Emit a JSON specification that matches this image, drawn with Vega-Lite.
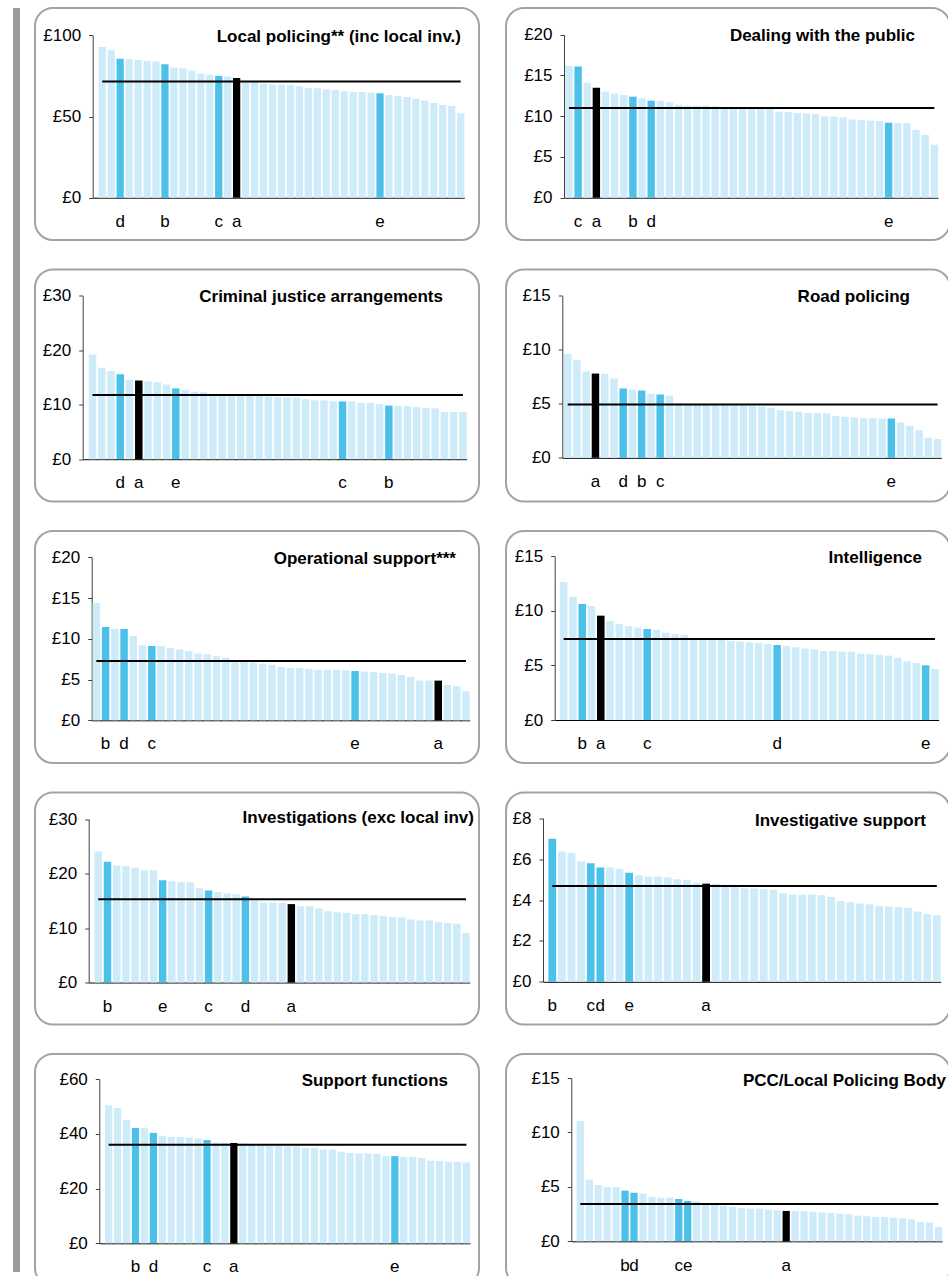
{
"$schema": "https://vega.github.io/schema/vega-lite/v6.json",
"padding": {"left": 13, "top": 7, "right": 0, "bottom": 0},
"background": "white",
"config": {
  "view": {"stroke": "#a3a3a3", "strokeWidth": 2, "cornerRadius": 18, "fill": "white"},
  "axis": {"labelFont": "Liberation Sans", "labelFontSize": 17, "labelColor": "#000", "grid": false, "domainColor": "#404040", "tickColor": "#404040", "tickSize": 4, "labelPadding": 8},
  "title": {"anchor": "end", "frame": "group", "font": "Liberation Sans", "fontSize": 17, "fontWeight": "bold", "color": "#000", "baseline": "alphabetic"},
  "text": {"font": "Liberation Sans", "fontSize": 17, "color": "#000"},
  "rule": {"color": "#000", "strokeWidth": 2},
  "concat": {"spacing": 25}
},
"datasets": {
"means": [
 {"chart":"LP","mean":71.5},{"chart":"DP","mean":11.0},{"chart":"CJ","mean":11.8},{"chart":"RP","mean":4.94},{"chart":"OS","mean":7.28},
 {"chart":"IN","mean":7.42},{"chart":"IV","mean":15.3},{"chart":"IS","mean":4.69},{"chart":"SF","mean":36.1},{"chart":"PCC","mean":3.43}
],
"bars": [
{"chart":"LP","rank":1,"value":92.8,"force":""},{"chart":"LP","rank":2,"value":90.8,"force":""},{"chart":"LP","rank":3,"value":85.6,"force":"d"},{"chart":"LP","rank":4,"value":85.2,"force":""},{"chart":"LP","rank":5,"value":84.8,"force":""},{"chart":"LP","rank":6,"value":84.2,"force":""},{"chart":"LP","rank":7,"value":83.8,"force":""},{"chart":"LP","rank":8,"value":82.1,"force":"b"},{"chart":"LP","rank":9,"value":80.1,"force":""},{"chart":"LP","rank":10,"value":79.7,"force":""},{"chart":"LP","rank":11,"value":78.2,"force":""},{"chart":"LP","rank":12,"value":76.4,"force":""},{"chart":"LP","rank":13,"value":75.8,"force":""},{"chart":"LP","rank":14,"value":75.0,"force":"c"},{"chart":"LP","rank":15,"value":74.7,"force":""},{"chart":"LP","rank":16,"value":73.7,"force":"a"},{"chart":"LP","rank":17,"value":71.9,"force":""},{"chart":"LP","rank":18,"value":71.5,"force":""},{"chart":"LP","rank":19,"value":70.2,"force":""},{"chart":"LP","rank":20,"value":69.8,"force":""},{"chart":"LP","rank":21,"value":69.6,"force":""},{"chart":"LP","rank":22,"value":69.4,"force":""},{"chart":"LP","rank":23,"value":68.4,"force":""},{"chart":"LP","rank":24,"value":67.6,"force":""},{"chart":"LP","rank":25,"value":67.4,"force":""},{"chart":"LP","rank":26,"value":66.7,"force":""},{"chart":"LP","rank":27,"value":66.3,"force":""},{"chart":"LP","rank":28,"value":65.5,"force":""},{"chart":"LP","rank":29,"value":65.1,"force":""},{"chart":"LP","rank":30,"value":65.1,"force":""},{"chart":"LP","rank":31,"value":64.7,"force":""},{"chart":"LP","rank":32,"value":64.3,"force":"e"},{"chart":"LP","rank":33,"value":63.2,"force":""},{"chart":"LP","rank":34,"value":62.6,"force":""},{"chart":"LP","rank":35,"value":62.0,"force":""},{"chart":"LP","rank":36,"value":61.0,"force":""},{"chart":"LP","rank":37,"value":59.8,"force":""},{"chart":"LP","rank":38,"value":58.3,"force":""},{"chart":"LP","rank":39,"value":57.1,"force":""},{"chart":"LP","rank":40,"value":56.5,"force":""},{"chart":"LP","rank":41,"value":52.0,"force":""},
{"chart":"DP","rank":1,"value":16.2,"force":""},{"chart":"DP","rank":2,"value":16.1,"force":"c"},{"chart":"DP","rank":3,"value":14.1,"force":""},{"chart":"DP","rank":4,"value":13.5,"force":"a"},{"chart":"DP","rank":5,"value":13.0,"force":""},{"chart":"DP","rank":6,"value":12.8,"force":""},{"chart":"DP","rank":7,"value":12.6,"force":""},{"chart":"DP","rank":8,"value":12.4,"force":"b"},{"chart":"DP","rank":9,"value":12.2,"force":""},{"chart":"DP","rank":10,"value":11.9,"force":"d"},{"chart":"DP","rank":11,"value":11.9,"force":""},{"chart":"DP","rank":12,"value":11.7,"force":""},{"chart":"DP","rank":13,"value":11.4,"force":""},{"chart":"DP","rank":14,"value":11.3,"force":""},{"chart":"DP","rank":15,"value":11.3,"force":""},{"chart":"DP","rank":16,"value":11.3,"force":""},{"chart":"DP","rank":17,"value":11.2,"force":""},{"chart":"DP","rank":18,"value":11.1,"force":""},{"chart":"DP","rank":19,"value":11.1,"force":""},{"chart":"DP","rank":20,"value":11.0,"force":""},{"chart":"DP","rank":21,"value":11.0,"force":""},{"chart":"DP","rank":22,"value":11.0,"force":""},{"chart":"DP","rank":23,"value":11.0,"force":""},{"chart":"DP","rank":24,"value":10.55,"force":""},{"chart":"DP","rank":25,"value":10.5,"force":""},{"chart":"DP","rank":26,"value":10.4,"force":""},{"chart":"DP","rank":27,"value":10.35,"force":""},{"chart":"DP","rank":28,"value":10.25,"force":""},{"chart":"DP","rank":29,"value":10.0,"force":""},{"chart":"DP","rank":30,"value":9.95,"force":""},{"chart":"DP","rank":31,"value":9.85,"force":""},{"chart":"DP","rank":32,"value":9.6,"force":""},{"chart":"DP","rank":33,"value":9.55,"force":""},{"chart":"DP","rank":34,"value":9.45,"force":""},{"chart":"DP","rank":35,"value":9.4,"force":""},{"chart":"DP","rank":36,"value":9.2,"force":"e"},{"chart":"DP","rank":37,"value":9.15,"force":""},{"chart":"DP","rank":38,"value":9.15,"force":""},{"chart":"DP","rank":39,"value":8.3,"force":""},{"chart":"DP","rank":40,"value":7.7,"force":""},{"chart":"DP","rank":41,"value":6.5,"force":""},
{"chart":"CJ","rank":1,"value":19.2,"force":""},{"chart":"CJ","rank":2,"value":16.8,"force":""},{"chart":"CJ","rank":3,"value":16.2,"force":""},{"chart":"CJ","rank":4,"value":15.6,"force":"d"},{"chart":"CJ","rank":5,"value":14.6,"force":""},{"chart":"CJ","rank":6,"value":14.45,"force":"a"},{"chart":"CJ","rank":7,"value":14.3,"force":""},{"chart":"CJ","rank":8,"value":14.1,"force":""},{"chart":"CJ","rank":9,"value":13.7,"force":""},{"chart":"CJ","rank":10,"value":13.0,"force":"e"},{"chart":"CJ","rank":11,"value":12.7,"force":""},{"chart":"CJ","rank":12,"value":12.4,"force":""},{"chart":"CJ","rank":13,"value":12.3,"force":""},{"chart":"CJ","rank":14,"value":11.9,"force":""},{"chart":"CJ","rank":15,"value":11.8,"force":""},{"chart":"CJ","rank":16,"value":11.7,"force":""},{"chart":"CJ","rank":17,"value":11.7,"force":""},{"chart":"CJ","rank":18,"value":11.6,"force":""},{"chart":"CJ","rank":19,"value":11.6,"force":""},{"chart":"CJ","rank":20,"value":11.5,"force":""},{"chart":"CJ","rank":21,"value":11.4,"force":""},{"chart":"CJ","rank":22,"value":11.35,"force":""},{"chart":"CJ","rank":23,"value":11.3,"force":""},{"chart":"CJ","rank":24,"value":11.0,"force":""},{"chart":"CJ","rank":25,"value":10.8,"force":""},{"chart":"CJ","rank":26,"value":10.8,"force":""},{"chart":"CJ","rank":27,"value":10.65,"force":""},{"chart":"CJ","rank":28,"value":10.6,"force":"c"},{"chart":"CJ","rank":29,"value":10.6,"force":""},{"chart":"CJ","rank":30,"value":10.35,"force":""},{"chart":"CJ","rank":31,"value":10.35,"force":""},{"chart":"CJ","rank":32,"value":10.1,"force":""},{"chart":"CJ","rank":33,"value":9.85,"force":"b"},{"chart":"CJ","rank":34,"value":9.75,"force":""},{"chart":"CJ","rank":35,"value":9.75,"force":""},{"chart":"CJ","rank":36,"value":9.6,"force":""},{"chart":"CJ","rank":37,"value":9.4,"force":""},{"chart":"CJ","rank":38,"value":9.35,"force":""},{"chart":"CJ","rank":39,"value":8.7,"force":""},{"chart":"CJ","rank":40,"value":8.7,"force":""},{"chart":"CJ","rank":41,"value":8.7,"force":""},
{"chart":"RP","rank":1,"value":9.6,"force":""},{"chart":"RP","rank":2,"value":9.07,"force":""},{"chart":"RP","rank":3,"value":8.0,"force":""},{"chart":"RP","rank":4,"value":7.8,"force":"a"},{"chart":"RP","rank":5,"value":7.78,"force":""},{"chart":"RP","rank":6,"value":7.35,"force":""},{"chart":"RP","rank":7,"value":6.42,"force":"d"},{"chart":"RP","rank":8,"value":6.3,"force":""},{"chart":"RP","rank":9,"value":6.23,"force":"b"},{"chart":"RP","rank":10,"value":5.93,"force":""},{"chart":"RP","rank":11,"value":5.86,"force":"c"},{"chart":"RP","rank":12,"value":5.74,"force":""},{"chart":"RP","rank":13,"value":5.05,"force":""},{"chart":"RP","rank":14,"value":4.95,"force":""},{"chart":"RP","rank":15,"value":4.9,"force":""},{"chart":"RP","rank":16,"value":4.9,"force":""},{"chart":"RP","rank":17,"value":4.88,"force":""},{"chart":"RP","rank":18,"value":4.85,"force":""},{"chart":"RP","rank":19,"value":4.82,"force":""},{"chart":"RP","rank":20,"value":4.8,"force":""},{"chart":"RP","rank":21,"value":4.78,"force":""},{"chart":"RP","rank":22,"value":4.75,"force":""},{"chart":"RP","rank":23,"value":4.63,"force":""},{"chart":"RP","rank":24,"value":4.4,"force":""},{"chart":"RP","rank":25,"value":4.32,"force":""},{"chart":"RP","rank":26,"value":4.26,"force":""},{"chart":"RP","rank":27,"value":4.14,"force":""},{"chart":"RP","rank":28,"value":4.14,"force":""},{"chart":"RP","rank":29,"value":4.1,"force":""},{"chart":"RP","rank":30,"value":3.86,"force":""},{"chart":"RP","rank":31,"value":3.8,"force":""},{"chart":"RP","rank":32,"value":3.74,"force":""},{"chart":"RP","rank":33,"value":3.67,"force":""},{"chart":"RP","rank":34,"value":3.67,"force":""},{"chart":"RP","rank":35,"value":3.64,"force":""},{"chart":"RP","rank":36,"value":3.64,"force":"e"},{"chart":"RP","rank":37,"value":3.27,"force":""},{"chart":"RP","rank":38,"value":2.96,"force":""},{"chart":"RP","rank":39,"value":2.56,"force":""},{"chart":"RP","rank":40,"value":1.85,"force":""},{"chart":"RP","rank":41,"value":1.73,"force":""},
{"chart":"OS","rank":1,"value":14.4,"force":""},{"chart":"OS","rank":2,"value":11.45,"force":"b"},{"chart":"OS","rank":3,"value":11.2,"force":""},{"chart":"OS","rank":4,"value":11.2,"force":"d"},{"chart":"OS","rank":5,"value":10.35,"force":""},{"chart":"OS","rank":6,"value":9.2,"force":""},{"chart":"OS","rank":7,"value":9.12,"force":"c"},{"chart":"OS","rank":8,"value":9.12,"force":""},{"chart":"OS","rank":9,"value":8.87,"force":""},{"chart":"OS","rank":10,"value":8.7,"force":""},{"chart":"OS","rank":11,"value":8.5,"force":""},{"chart":"OS","rank":12,"value":8.18,"force":""},{"chart":"OS","rank":13,"value":8.1,"force":""},{"chart":"OS","rank":14,"value":7.85,"force":""},{"chart":"OS","rank":15,"value":7.7,"force":""},{"chart":"OS","rank":16,"value":7.36,"force":""},{"chart":"OS","rank":17,"value":7.2,"force":""},{"chart":"OS","rank":18,"value":7.1,"force":""},{"chart":"OS","rank":19,"value":6.95,"force":""},{"chart":"OS","rank":20,"value":6.8,"force":""},{"chart":"OS","rank":21,"value":6.54,"force":""},{"chart":"OS","rank":22,"value":6.42,"force":""},{"chart":"OS","rank":23,"value":6.42,"force":""},{"chart":"OS","rank":24,"value":6.3,"force":""},{"chart":"OS","rank":25,"value":6.2,"force":""},{"chart":"OS","rank":26,"value":6.2,"force":""},{"chart":"OS","rank":27,"value":6.2,"force":""},{"chart":"OS","rank":28,"value":6.13,"force":""},{"chart":"OS","rank":29,"value":6.05,"force":"e"},{"chart":"OS","rank":30,"value":5.97,"force":""},{"chart":"OS","rank":31,"value":5.9,"force":""},{"chart":"OS","rank":32,"value":5.8,"force":""},{"chart":"OS","rank":33,"value":5.72,"force":""},{"chart":"OS","rank":34,"value":5.56,"force":""},{"chart":"OS","rank":35,"value":5.32,"force":""},{"chart":"OS","rank":36,"value":4.87,"force":""},{"chart":"OS","rank":37,"value":4.87,"force":""},{"chart":"OS","rank":38,"value":4.87,"force":"a"},{"chart":"OS","rank":39,"value":4.34,"force":""},{"chart":"OS","rank":40,"value":4.2,"force":""},{"chart":"OS","rank":41,"value":3.56,"force":""},
{"chart":"IN","rank":1,"value":12.65,"force":""},{"chart":"IN","rank":2,"value":11.3,"force":""},{"chart":"IN","rank":3,"value":10.63,"force":"b"},{"chart":"IN","rank":4,"value":10.45,"force":""},{"chart":"IN","rank":5,"value":9.56,"force":"a"},{"chart":"IN","rank":6,"value":9.07,"force":""},{"chart":"IN","rank":7,"value":8.8,"force":""},{"chart":"IN","rank":8,"value":8.6,"force":""},{"chart":"IN","rank":9,"value":8.46,"force":""},{"chart":"IN","rank":10,"value":8.34,"force":"c"},{"chart":"IN","rank":11,"value":8.28,"force":""},{"chart":"IN","rank":12,"value":8.0,"force":""},{"chart":"IN","rank":13,"value":7.85,"force":""},{"chart":"IN","rank":14,"value":7.8,"force":""},{"chart":"IN","rank":15,"value":7.5,"force":""},{"chart":"IN","rank":16,"value":7.4,"force":""},{"chart":"IN","rank":17,"value":7.33,"force":""},{"chart":"IN","rank":18,"value":7.33,"force":""},{"chart":"IN","rank":19,"value":7.24,"force":""},{"chart":"IN","rank":20,"value":7.18,"force":""},{"chart":"IN","rank":21,"value":7.12,"force":""},{"chart":"IN","rank":22,"value":7.06,"force":""},{"chart":"IN","rank":23,"value":6.97,"force":""},{"chart":"IN","rank":24,"value":6.87,"force":"d"},{"chart":"IN","rank":25,"value":6.78,"force":""},{"chart":"IN","rank":26,"value":6.66,"force":""},{"chart":"IN","rank":27,"value":6.54,"force":""},{"chart":"IN","rank":28,"value":6.48,"force":""},{"chart":"IN","rank":29,"value":6.32,"force":""},{"chart":"IN","rank":30,"value":6.32,"force":""},{"chart":"IN","rank":31,"value":6.26,"force":""},{"chart":"IN","rank":32,"value":6.26,"force":""},{"chart":"IN","rank":33,"value":6.08,"force":""},{"chart":"IN","rank":34,"value":6.02,"force":""},{"chart":"IN","rank":35,"value":5.96,"force":""},{"chart":"IN","rank":36,"value":5.9,"force":""},{"chart":"IN","rank":37,"value":5.71,"force":""},{"chart":"IN","rank":38,"value":5.38,"force":""},{"chart":"IN","rank":39,"value":5.22,"force":""},{"chart":"IN","rank":40,"value":5.01,"force":"e"},{"chart":"IN","rank":41,"value":4.67,"force":""},
{"chart":"IV","rank":1,"value":24.07,"force":""},{"chart":"IV","rank":2,"value":22.2,"force":"b"},{"chart":"IV","rank":3,"value":21.5,"force":""},{"chart":"IV","rank":4,"value":21.4,"force":""},{"chart":"IV","rank":5,"value":21.1,"force":""},{"chart":"IV","rank":6,"value":20.6,"force":""},{"chart":"IV","rank":7,"value":20.6,"force":""},{"chart":"IV","rank":8,"value":18.8,"force":"e"},{"chart":"IV","rank":9,"value":18.6,"force":""},{"chart":"IV","rank":10,"value":18.4,"force":""},{"chart":"IV","rank":11,"value":18.4,"force":""},{"chart":"IV","rank":12,"value":17.3,"force":""},{"chart":"IV","rank":13,"value":16.9,"force":"c"},{"chart":"IV","rank":14,"value":16.6,"force":""},{"chart":"IV","rank":15,"value":16.35,"force":""},{"chart":"IV","rank":16,"value":16.2,"force":""},{"chart":"IV","rank":17,"value":15.8,"force":"d"},{"chart":"IV","rank":18,"value":15.1,"force":""},{"chart":"IV","rank":19,"value":14.7,"force":""},{"chart":"IV","rank":20,"value":14.7,"force":""},{"chart":"IV","rank":21,"value":14.65,"force":""},{"chart":"IV","rank":22,"value":14.4,"force":"a"},{"chart":"IV","rank":23,"value":14.0,"force":""},{"chart":"IV","rank":24,"value":14.0,"force":""},{"chart":"IV","rank":25,"value":13.6,"force":""},{"chart":"IV","rank":26,"value":13.1,"force":""},{"chart":"IV","rank":27,"value":12.9,"force":""},{"chart":"IV","rank":28,"value":12.8,"force":""},{"chart":"IV","rank":29,"value":12.55,"force":""},{"chart":"IV","rank":30,"value":12.55,"force":""},{"chart":"IV","rank":31,"value":12.4,"force":""},{"chart":"IV","rank":32,"value":12.2,"force":""},{"chart":"IV","rank":33,"value":12.05,"force":""},{"chart":"IV","rank":34,"value":11.95,"force":""},{"chart":"IV","rank":35,"value":11.6,"force":""},{"chart":"IV","rank":36,"value":11.4,"force":""},{"chart":"IV","rank":37,"value":11.4,"force":""},{"chart":"IV","rank":38,"value":11.1,"force":""},{"chart":"IV","rank":39,"value":10.95,"force":""},{"chart":"IV","rank":40,"value":10.8,"force":""},{"chart":"IV","rank":41,"value":9.1,"force":""},
{"chart":"IS","rank":1,"value":7.0,"force":"b"},{"chart":"IS","rank":2,"value":6.37,"force":""},{"chart":"IS","rank":3,"value":6.3,"force":""},{"chart":"IS","rank":4,"value":5.88,"force":""},{"chart":"IS","rank":5,"value":5.8,"force":"c"},{"chart":"IS","rank":6,"value":5.59,"force":"d"},{"chart":"IS","rank":7,"value":5.59,"force":""},{"chart":"IS","rank":8,"value":5.52,"force":""},{"chart":"IS","rank":9,"value":5.33,"force":"e"},{"chart":"IS","rank":10,"value":5.21,"force":""},{"chart":"IS","rank":11,"value":5.15,"force":""},{"chart":"IS","rank":12,"value":5.15,"force":""},{"chart":"IS","rank":13,"value":5.1,"force":""},{"chart":"IS","rank":14,"value":5.02,"force":""},{"chart":"IS","rank":15,"value":4.98,"force":""},{"chart":"IS","rank":16,"value":4.84,"force":""},{"chart":"IS","rank":17,"value":4.8,"force":"a"},{"chart":"IS","rank":18,"value":4.79,"force":""},{"chart":"IS","rank":19,"value":4.72,"force":""},{"chart":"IS","rank":20,"value":4.66,"force":""},{"chart":"IS","rank":21,"value":4.58,"force":""},{"chart":"IS","rank":22,"value":4.56,"force":""},{"chart":"IS","rank":23,"value":4.53,"force":""},{"chart":"IS","rank":24,"value":4.5,"force":""},{"chart":"IS","rank":25,"value":4.33,"force":""},{"chart":"IS","rank":26,"value":4.27,"force":""},{"chart":"IS","rank":27,"value":4.27,"force":""},{"chart":"IS","rank":28,"value":4.27,"force":""},{"chart":"IS","rank":29,"value":4.23,"force":""},{"chart":"IS","rank":30,"value":4.15,"force":""},{"chart":"IS","rank":31,"value":3.94,"force":""},{"chart":"IS","rank":32,"value":3.89,"force":""},{"chart":"IS","rank":33,"value":3.83,"force":""},{"chart":"IS","rank":34,"value":3.79,"force":""},{"chart":"IS","rank":35,"value":3.71,"force":""},{"chart":"IS","rank":36,"value":3.68,"force":""},{"chart":"IS","rank":37,"value":3.65,"force":""},{"chart":"IS","rank":38,"value":3.62,"force":""},{"chart":"IS","rank":39,"value":3.44,"force":""},{"chart":"IS","rank":40,"value":3.31,"force":""},{"chart":"IS","rank":41,"value":3.26,"force":""},
{"chart":"SF","rank":1,"value":50.5,"force":""},{"chart":"SF","rank":2,"value":49.5,"force":""},{"chart":"SF","rank":3,"value":45.1,"force":""},{"chart":"SF","rank":4,"value":42.2,"force":"b"},{"chart":"SF","rank":5,"value":42.1,"force":""},{"chart":"SF","rank":6,"value":40.4,"force":"d"},{"chart":"SF","rank":7,"value":39.3,"force":""},{"chart":"SF","rank":8,"value":38.9,"force":""},{"chart":"SF","rank":9,"value":38.9,"force":""},{"chart":"SF","rank":10,"value":38.7,"force":""},{"chart":"SF","rank":11,"value":38.3,"force":""},{"chart":"SF","rank":12,"value":37.8,"force":"c"},{"chart":"SF","rank":13,"value":36.8,"force":""},{"chart":"SF","rank":14,"value":36.7,"force":""},{"chart":"SF","rank":15,"value":36.7,"force":"a"},{"chart":"SF","rank":16,"value":36.6,"force":""},{"chart":"SF","rank":17,"value":36.0,"force":""},{"chart":"SF","rank":18,"value":35.8,"force":""},{"chart":"SF","rank":19,"value":35.7,"force":""},{"chart":"SF","rank":20,"value":35.6,"force":""},{"chart":"SF","rank":21,"value":35.4,"force":""},{"chart":"SF","rank":22,"value":35.4,"force":""},{"chart":"SF","rank":23,"value":34.9,"force":""},{"chart":"SF","rank":24,"value":34.9,"force":""},{"chart":"SF","rank":25,"value":34.3,"force":""},{"chart":"SF","rank":26,"value":34.3,"force":""},{"chart":"SF","rank":27,"value":33.5,"force":""},{"chart":"SF","rank":28,"value":33.0,"force":""},{"chart":"SF","rank":29,"value":32.9,"force":""},{"chart":"SF","rank":30,"value":32.9,"force":""},{"chart":"SF","rank":31,"value":32.7,"force":""},{"chart":"SF","rank":32,"value":31.9,"force":""},{"chart":"SF","rank":33,"value":31.9,"force":"e"},{"chart":"SF","rank":34,"value":31.6,"force":""},{"chart":"SF","rank":35,"value":31.6,"force":""},{"chart":"SF","rank":36,"value":31.2,"force":""},{"chart":"SF","rank":37,"value":30.2,"force":""},{"chart":"SF","rank":38,"value":30.1,"force":""},{"chart":"SF","rank":39,"value":29.8,"force":""},{"chart":"SF","rank":40,"value":29.8,"force":""},{"chart":"SF","rank":41,"value":29.6,"force":""},
{"chart":"PCC","rank":1,"value":11.05,"force":""},{"chart":"PCC","rank":2,"value":5.66,"force":""},{"chart":"PCC","rank":3,"value":5.17,"force":""},{"chart":"PCC","rank":4,"value":4.99,"force":""},{"chart":"PCC","rank":5,"value":4.99,"force":""},{"chart":"PCC","rank":6,"value":4.65,"force":"b"},{"chart":"PCC","rank":7,"value":4.47,"force":"d"},{"chart":"PCC","rank":8,"value":4.38,"force":""},{"chart":"PCC","rank":9,"value":4.07,"force":""},{"chart":"PCC","rank":10,"value":4.01,"force":""},{"chart":"PCC","rank":11,"value":4.01,"force":""},{"chart":"PCC","rank":12,"value":3.89,"force":"c"},{"chart":"PCC","rank":13,"value":3.7,"force":"e"},{"chart":"PCC","rank":14,"value":3.7,"force":""},{"chart":"PCC","rank":15,"value":3.49,"force":""},{"chart":"PCC","rank":16,"value":3.4,"force":""},{"chart":"PCC","rank":17,"value":3.28,"force":""},{"chart":"PCC","rank":18,"value":3.18,"force":""},{"chart":"PCC","rank":19,"value":3.06,"force":""},{"chart":"PCC","rank":20,"value":3.0,"force":""},{"chart":"PCC","rank":21,"value":3.0,"force":""},{"chart":"PCC","rank":22,"value":2.91,"force":""},{"chart":"PCC","rank":23,"value":2.85,"force":""},{"chart":"PCC","rank":24,"value":2.79,"force":"a"},{"chart":"PCC","rank":25,"value":2.79,"force":""},{"chart":"PCC","rank":26,"value":2.79,"force":""},{"chart":"PCC","rank":27,"value":2.72,"force":""},{"chart":"PCC","rank":28,"value":2.66,"force":""},{"chart":"PCC","rank":29,"value":2.6,"force":""},{"chart":"PCC","rank":30,"value":2.54,"force":""},{"chart":"PCC","rank":31,"value":2.48,"force":""},{"chart":"PCC","rank":32,"value":2.36,"force":""},{"chart":"PCC","rank":33,"value":2.3,"force":""},{"chart":"PCC","rank":34,"value":2.23,"force":""},{"chart":"PCC","rank":35,"value":2.23,"force":""},{"chart":"PCC","rank":36,"value":2.17,"force":""},{"chart":"PCC","rank":37,"value":2.11,"force":""},{"chart":"PCC","rank":38,"value":2.02,"force":""},{"chart":"PCC","rank":39,"value":1.78,"force":""},{"chart":"PCC","rank":40,"value":1.71,"force":""},{"chart":"PCC","rank":41,"value":1.32,"force":""}
]
},
"hconcat": [
{
 "width": 7, "height": 1264,
 "view": {"fill": "#9b9b9b", "stroke": null, "cornerRadius": 0},
 "data": {"values": [{"x": 0}]},
 "mark": {"type": "point", "opacity": 0},
 "encoding": {}
},
{
"vconcat": [
{"hconcat": [
{"width": 444, "height": 232, "title": {"text": "Local policing** (inc local inv.)", "dx": -18, "offset": -38},
 "layer": [
  {"data": {"name": "bars"}, "transform": [{"filter": "datum.chart === 'LP'"}], "mark": "bar",
   "encoding": {
    "x": {"field": "rank", "type": "ordinal", "scale": {"range": [57.7, 429.3], "paddingInner": 0.19, "paddingOuter": 0.33, "align": 1}, "axis": {"labels": false, "ticks": false, "title": null, "domainColor": "#000", "offset": -42.3}},
    "y": {"field": "value", "type": "quantitative", "scale": {"domain": [0, 100], "range": [189.7, 27.3], "nice": false}, "axis": {"values": [0, 50, 100], "offset": -57.7, "title": null, "labelExpr": "'£' + datum.value"}},
    "color": {"field": "force", "type": "nominal", "scale": {"domain": ["", "a", "b", "c", "d", "e"], "range": ["#cdebf8", "#000000", "#4bc1ea", "#4bc1ea", "#4bc1ea", "#4bc1ea"]}, "legend": null}}},
  {"data": {"name": "means"}, "transform": [{"filter": "datum.chart === 'LP'"}], "mark": {"type": "rule"},
   "encoding": {"x": {"datum": 1, "type": "ordinal"}, "x2": {"datum": 41}, "y": {"field": "mean", "type": "quantitative"}}},
  {"data": {"name": "bars"}, "transform": [{"filter": "datum.chart === 'LP' && datum.force !== ''"}], "mark": {"type": "text", "dy": 29, "baseline": "alphabetic"},
   "encoding": {"x": {"field": "rank", "type": "ordinal"}, "y": {"datum": 0, "type": "quantitative"}, "text": {"field": "force"}}}
 ]},
{"width": 444, "height": 232, "title": {"text": "Dealing with the public", "dx": -35, "offset": -37},
 "layer": [
  {"data": {"name": "bars"}, "transform": [{"filter": "datum.chart === 'DP'"}], "mark": "bar",
   "encoding": {
    "x": {"field": "rank", "type": "ordinal", "scale": {"range": [58, 432], "paddingInner": 0.19, "paddingOuter": 0.07, "align": 1}, "axis": {"labels": false, "ticks": false, "title": null, "domainColor": "#000", "offset": -42.3}},
    "y": {"field": "value", "type": "quantitative", "scale": {"domain": [0, 20], "range": [189.7, 26.7], "nice": false}, "axis": {"values": [0, 5, 10, 15, 20], "offset": -58, "title": null, "labelExpr": "'£' + datum.value"}},
    "color": {"field": "force", "type": "nominal", "scale": {"domain": ["", "a", "b", "c", "d", "e"], "range": ["#cdebf8", "#000000", "#4bc1ea", "#4bc1ea", "#4bc1ea", "#4bc1ea"]}, "legend": null}}},
  {"data": {"name": "means"}, "transform": [{"filter": "datum.chart === 'DP'"}], "mark": {"type": "rule"},
   "encoding": {"x": {"datum": 1, "type": "ordinal"}, "x2": {"datum": 41}, "y": {"field": "mean", "type": "quantitative"}}},
  {"data": {"name": "bars"}, "transform": [{"filter": "datum.chart === 'DP' && datum.force !== ''"}], "mark": {"type": "text", "dy": 29, "baseline": "alphabetic"},
   "encoding": {"x": {"field": "rank", "type": "ordinal"}, "y": {"datum": 0, "type": "quantitative"}, "text": {"field": "force"}}}
 ]}
]},
{"hconcat": [
{"width": 444, "height": 232, "title": {"text": "Criminal justice arrangements", "dx": -36, "offset": -36},
 "layer": [
  {"data": {"name": "bars"}, "transform": [{"filter": "datum.chart === 'CJ'"}], "mark": "bar",
   "encoding": {
    "x": {"field": "rank", "type": "ordinal", "scale": {"range": [47.7, 431.7], "paddingInner": 0.19, "paddingOuter": 0.325, "align": 1}, "axis": {"labels": false, "ticks": false, "title": null, "domainColor": "#000", "offset": -42.3}},
    "y": {"field": "value", "type": "quantitative", "scale": {"domain": [0, 30], "range": [189.7, 26.3], "nice": false}, "axis": {"values": [0, 10, 20, 30], "offset": -47.7, "title": null, "labelExpr": "'£' + datum.value"}},
    "color": {"field": "force", "type": "nominal", "scale": {"domain": ["", "a", "b", "c", "d", "e"], "range": ["#cdebf8", "#000000", "#4bc1ea", "#4bc1ea", "#4bc1ea", "#4bc1ea"]}, "legend": null}}},
  {"data": {"name": "means"}, "transform": [{"filter": "datum.chart === 'CJ'"}], "mark": {"type": "rule"},
   "encoding": {"x": {"datum": 1, "type": "ordinal"}, "x2": {"datum": 41}, "y": {"field": "mean", "type": "quantitative"}}},
  {"data": {"name": "bars"}, "transform": [{"filter": "datum.chart === 'CJ' && datum.force !== ''"}], "mark": {"type": "text", "dy": 29, "baseline": "alphabetic"},
   "encoding": {"x": {"field": "rank", "type": "ordinal"}, "y": {"datum": 0, "type": "quantitative"}, "text": {"field": "force"}}}
 ]},
{"width": 444, "height": 232, "title": {"text": "Road policing", "dx": -40, "offset": -36},
 "layer": [
  {"data": {"name": "bars"}, "transform": [{"filter": "datum.chart === 'RP'"}], "mark": "bar",
   "encoding": {
    "x": {"field": "rank", "type": "ordinal", "scale": {"range": [56.3, 435.3], "paddingInner": 0.19, "paddingOuter": 0.09, "align": 1}, "axis": {"labels": false, "ticks": false, "title": null, "domainColor": "#000", "offset": -43.7}},
    "y": {"field": "value", "type": "quantitative", "scale": {"domain": [0, 15], "range": [188.3, 26.3], "nice": false}, "axis": {"values": [0, 5, 10, 15], "offset": -56.3, "title": null, "labelExpr": "'£' + datum.value"}},
    "color": {"field": "force", "type": "nominal", "scale": {"domain": ["", "a", "b", "c", "d", "e"], "range": ["#cdebf8", "#000000", "#4bc1ea", "#4bc1ea", "#4bc1ea", "#4bc1ea"]}, "legend": null}}},
  {"data": {"name": "means"}, "transform": [{"filter": "datum.chart === 'RP'"}], "mark": {"type": "rule"},
   "encoding": {"x": {"datum": 1, "type": "ordinal"}, "x2": {"datum": 41}, "y": {"field": "mean", "type": "quantitative"}}},
  {"data": {"name": "bars"}, "transform": [{"filter": "datum.chart === 'RP' && datum.force !== ''"}], "mark": {"type": "text", "dy": 29, "baseline": "alphabetic"},
   "encoding": {"x": {"field": "rank", "type": "ordinal"}, "y": {"datum": 0, "type": "quantitative"}, "text": {"field": "force"}}}
 ]}
]},
{"hconcat": [
{"width": 444, "height": 232, "title": {"text": "Operational support***", "dx": -23, "offset": -37},
 "layer": [
  {"data": {"name": "bars"}, "transform": [{"filter": "datum.chart === 'OS'"}], "mark": "bar",
   "encoding": {
    "x": {"field": "rank", "type": "ordinal", "scale": {"range": [56.7, 434.7], "paddingInner": 0.19, "paddingOuter": 0.05, "align": 1}, "axis": {"labels": false, "ticks": false, "title": null, "domainColor": "#000", "offset": -42.7}},
    "y": {"field": "value", "type": "quantitative", "scale": {"domain": [0, 20], "range": [189.3, 26.3], "nice": false}, "axis": {"values": [0, 5, 10, 15, 20], "offset": -56.7, "title": null, "labelExpr": "'£' + datum.value"}},
    "color": {"field": "force", "type": "nominal", "scale": {"domain": ["", "a", "b", "c", "d", "e"], "range": ["#cdebf8", "#000000", "#4bc1ea", "#4bc1ea", "#4bc1ea", "#4bc1ea"]}, "legend": null}}},
  {"data": {"name": "means"}, "transform": [{"filter": "datum.chart === 'OS'"}], "mark": {"type": "rule"},
   "encoding": {"x": {"datum": 1, "type": "ordinal"}, "x2": {"datum": 41}, "y": {"field": "mean", "type": "quantitative"}}},
  {"data": {"name": "bars"}, "transform": [{"filter": "datum.chart === 'OS' && datum.force !== ''"}], "mark": {"type": "text", "dy": 29, "baseline": "alphabetic"},
   "encoding": {"x": {"field": "rank", "type": "ordinal"}, "y": {"datum": 0, "type": "quantitative"}, "text": {"field": "force"}}}
 ]},
{"width": 444, "height": 232, "title": {"text": "Intelligence", "dx": -28, "offset": -36},
 "layer": [
  {"data": {"name": "bars"}, "transform": [{"filter": "datum.chart === 'IN'"}], "mark": "bar",
   "encoding": {
    "x": {"field": "rank", "type": "ordinal", "scale": {"range": [48.7, 432.7], "paddingInner": 0.19, "paddingOuter": 0.28, "align": 1}, "axis": {"labels": false, "ticks": false, "title": null, "domainColor": "#000", "offset": -43}},
    "y": {"field": "value", "type": "quantitative", "scale": {"domain": [0, 15], "range": [189, 25.3], "nice": false}, "axis": {"values": [0, 5, 10, 15], "offset": -48.7, "title": null, "labelExpr": "'£' + datum.value"}},
    "color": {"field": "force", "type": "nominal", "scale": {"domain": ["", "a", "b", "c", "d", "e"], "range": ["#cdebf8", "#000000", "#4bc1ea", "#4bc1ea", "#4bc1ea", "#4bc1ea"]}, "legend": null}}},
  {"data": {"name": "means"}, "transform": [{"filter": "datum.chart === 'IN'"}], "mark": {"type": "rule"},
   "encoding": {"x": {"datum": 1, "type": "ordinal"}, "x2": {"datum": 41}, "y": {"field": "mean", "type": "quantitative"}}},
  {"data": {"name": "bars"}, "transform": [{"filter": "datum.chart === 'IN' && datum.force !== ''"}], "mark": {"type": "text", "dy": 29, "baseline": "alphabetic"},
   "encoding": {"x": {"field": "rank", "type": "ordinal"}, "y": {"datum": 0, "type": "quantitative"}, "text": {"field": "force"}}}
 ]}
]},
{"hconcat": [
{"width": 444, "height": 232, "title": {"text": "Investigations (exc local inv)", "dx": -5, "offset": -34},
 "layer": [
  {"data": {"name": "bars"}, "transform": [{"filter": "datum.chart === 'IV'"}], "mark": "bar",
   "encoding": {
    "x": {"field": "rank", "type": "ordinal", "scale": {"range": [53.7, 434.7], "paddingInner": 0.19, "paddingOuter": 0.32, "align": 1}, "axis": {"labels": false, "ticks": false, "title": null, "domainColor": "#000", "offset": -42}},
    "y": {"field": "value", "type": "quantitative", "scale": {"domain": [0, 30], "range": [190, 26.7], "nice": false}, "axis": {"values": [0, 10, 20, 30], "offset": -53.7, "title": null, "labelExpr": "'£' + datum.value"}},
    "color": {"field": "force", "type": "nominal", "scale": {"domain": ["", "a", "b", "c", "d", "e"], "range": ["#cdebf8", "#000000", "#4bc1ea", "#4bc1ea", "#4bc1ea", "#4bc1ea"]}, "legend": null}}},
  {"data": {"name": "means"}, "transform": [{"filter": "datum.chart === 'IV'"}], "mark": {"type": "rule"},
   "encoding": {"x": {"datum": 1, "type": "ordinal"}, "x2": {"datum": 41}, "y": {"field": "mean", "type": "quantitative"}}},
  {"data": {"name": "bars"}, "transform": [{"filter": "datum.chart === 'IV' && datum.force !== ''"}], "mark": {"type": "text", "dy": 29, "baseline": "alphabetic"},
   "encoding": {"x": {"field": "rank", "type": "ordinal"}, "y": {"datum": 0, "type": "quantitative"}, "text": {"field": "force"}}}
 ]},
{"width": 444, "height": 232, "title": {"text": "Investigative support", "dx": -24, "offset": -37},
 "layer": [
  {"data": {"name": "bars"}, "transform": [{"filter": "datum.chart === 'IS'"}], "mark": "bar",
   "encoding": {
    "x": {"field": "rank", "type": "ordinal", "scale": {"range": [37, 434.7], "paddingInner": 0.19, "paddingOuter": 0.28, "align": 1}, "axis": {"labels": false, "ticks": false, "title": null, "domainColor": "#000", "offset": -42.7}},
    "y": {"field": "value", "type": "quantitative", "scale": {"domain": [0, 8], "range": [189.3, 25.7], "nice": false}, "axis": {"values": [0, 2, 4, 6, 8], "offset": -37, "title": null, "labelExpr": "'£' + datum.value"}},
    "color": {"field": "force", "type": "nominal", "scale": {"domain": ["", "a", "b", "c", "d", "e"], "range": ["#cdebf8", "#000000", "#4bc1ea", "#4bc1ea", "#4bc1ea", "#4bc1ea"]}, "legend": null}}},
  {"data": {"name": "means"}, "transform": [{"filter": "datum.chart === 'IS'"}], "mark": {"type": "rule"},
   "encoding": {"x": {"datum": 1, "type": "ordinal"}, "x2": {"datum": 41}, "y": {"field": "mean", "type": "quantitative"}}},
  {"data": {"name": "bars"}, "transform": [{"filter": "datum.chart === 'IS' && datum.force !== ''"}], "mark": {"type": "text", "dy": 29, "baseline": "alphabetic"},
   "encoding": {"x": {"field": "rank", "type": "ordinal"}, "y": {"datum": 0, "type": "quantitative"}, "text": {"field": "force"}}}
 ]}
]},
{"hconcat": [
{"width": 444, "height": 232, "title": {"text": "Support functions", "dx": -31, "offset": -36},
 "layer": [
  {"data": {"name": "bars"}, "transform": [{"filter": "datum.chart === 'SF'"}], "mark": "bar",
   "encoding": {
    "x": {"field": "rank", "type": "ordinal", "scale": {"range": [64.3, 435], "paddingInner": 0.19, "paddingOuter": 0.32, "align": 1}, "axis": {"labels": false, "ticks": false, "title": null, "domainColor": "#000", "offset": -42.7}},
    "y": {"field": "value", "type": "quantitative", "scale": {"domain": [0, 60], "range": [189.3, 25.3], "nice": false}, "axis": {"values": [0, 20, 40, 60], "offset": -64.3, "title": null, "labelExpr": "'£' + datum.value"}},
    "color": {"field": "force", "type": "nominal", "scale": {"domain": ["", "a", "b", "c", "d", "e"], "range": ["#cdebf8", "#000000", "#4bc1ea", "#4bc1ea", "#4bc1ea", "#4bc1ea"]}, "legend": null}}},
  {"data": {"name": "means"}, "transform": [{"filter": "datum.chart === 'SF'"}], "mark": {"type": "rule"},
   "encoding": {"x": {"datum": 1, "type": "ordinal"}, "x2": {"datum": 41}, "y": {"field": "mean", "type": "quantitative"}}},
  {"data": {"name": "bars"}, "transform": [{"filter": "datum.chart === 'SF' && datum.force !== ''"}], "mark": {"type": "text", "dy": 29, "baseline": "alphabetic"},
   "encoding": {"x": {"field": "rank", "type": "ordinal"}, "y": {"datum": 0, "type": "quantitative"}, "text": {"field": "force"}}}
 ]},
{"width": 444, "height": 232, "title": {"text": "PCC/Local Policing Body", "dx": -4, "offset": -36},
 "layer": [
  {"data": {"name": "bars"}, "transform": [{"filter": "datum.chart === 'PCC'"}], "mark": "bar",
   "encoding": {
    "x": {"field": "rank", "type": "ordinal", "scale": {"range": [65.3, 436], "paddingInner": 0.19, "paddingOuter": 0.3, "align": 1}, "axis": {"labels": false, "ticks": false, "title": null, "domainColor": "#000", "offset": -44.7}},
    "y": {"field": "value", "type": "quantitative", "scale": {"domain": [0, 15], "range": [187.3, 24], "nice": false}, "axis": {"values": [0, 5, 10, 15], "offset": -65.3, "title": null, "labelExpr": "'£' + datum.value"}},
    "color": {"field": "force", "type": "nominal", "scale": {"domain": ["", "a", "b", "c", "d", "e"], "range": ["#cdebf8", "#000000", "#4bc1ea", "#4bc1ea", "#4bc1ea", "#4bc1ea"]}, "legend": null}}},
  {"data": {"name": "means"}, "transform": [{"filter": "datum.chart === 'PCC'"}], "mark": {"type": "rule"},
   "encoding": {"x": {"datum": 1, "type": "ordinal"}, "x2": {"datum": 41}, "y": {"field": "mean", "type": "quantitative"}}},
  {"data": {"name": "bars"}, "transform": [{"filter": "datum.chart === 'PCC' && datum.force !== ''"}], "mark": {"type": "text", "dy": 30, "baseline": "alphabetic"},
   "encoding": {"x": {"field": "rank", "type": "ordinal"}, "y": {"datum": 0, "type": "quantitative"}, "text": {"field": "force"}}}
 ]}
]}
],
"spacing": 27.5
}
],
"spacing": 14
}
